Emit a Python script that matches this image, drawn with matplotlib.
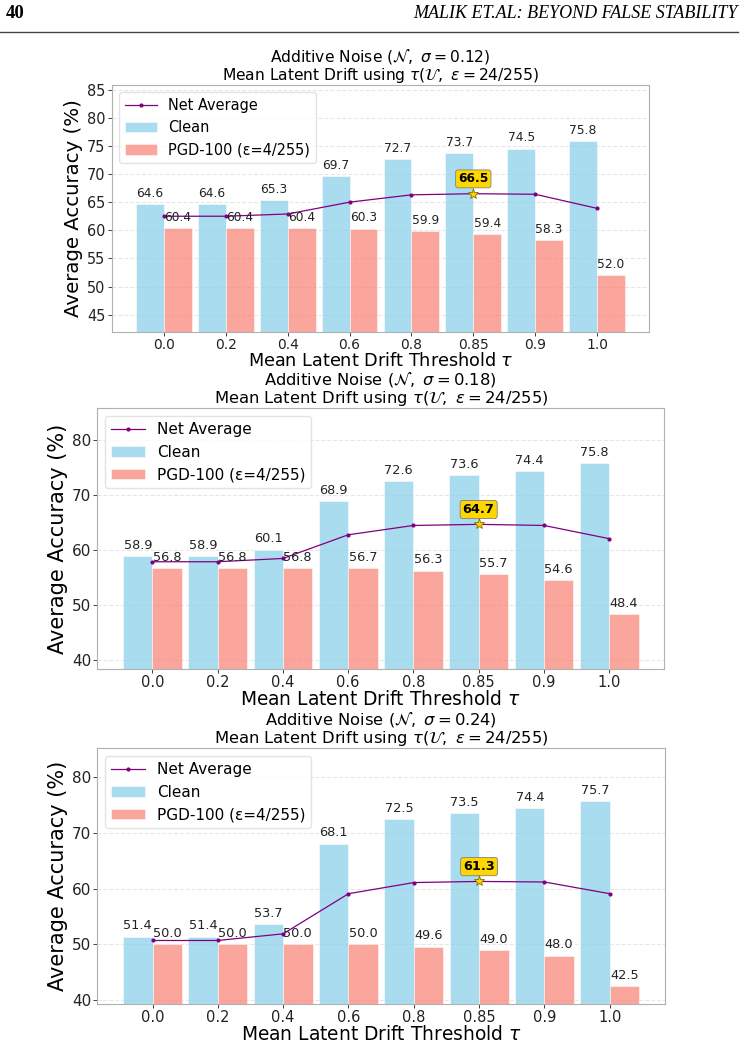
import numpy as np
import matplotlib.pyplot as plt
from matplotlib.ticker import MultipleLocator

# data
thresholds = ["0.0", "0.2", "0.4", "0.6", "0.8", "0.85", "0.9", "1.0"]

clean_012 = [64.6, 64.6, 65.3, 69.7, 72.7, 73.7, 74.5, 75.8]
pgd_012 = [60.4, 60.4, 60.4, 60.3, 59.9, 59.4, 58.3, 52.0]
net_012 = [62.5, 62.5, 62.9, 65.0, 66.3, 66.5, 66.4, 63.9]

clean_018 = [58.9, 58.9, 60.1, 68.9, 72.6, 73.6, 74.4, 75.8]
pgd_018 = [56.8, 56.8, 56.8, 56.7, 56.3, 55.7, 54.6, 48.4]
net_018 = [57.9, 57.9, 58.5, 62.8, 64.5, 64.7, 64.5, 62.1]

clean_024 = [51.4, 51.4, 53.7, 68.1, 72.5, 73.5, 74.4, 75.7]
pgd_024 = [50.0, 50.0, 50.0, 50.0, 49.6, 49.0, 48.0, 42.5]
net_024 = [50.7, 50.7, 51.9, 59.1, 61.1, 61.3, 61.2, 59.1]

sigmas = ["0.12", "0.18", "0.24"]

W, H = 744, 1048


def px_axes(fig, left, top, right, bottom):
    return fig.add_axes([left / W, 1 - bottom / H, (right - left) / W, (bottom - top) / H])


def plot_panel(ax, sigma, clean, pgd, net, ylim, ystep, fs=1.0):
    x = np.arange(len(thresholds))
    w = 0.45
    ax.plot(x, net, color='purple', marker='o', markersize=2, linewidth=0.9,
            label='Net Average')
    b1 = ax.bar(x - w / 2, clean, w, color='skyblue', alpha=0.7, label='Clean',
                edgecolor='white', linewidth=0.5)
    b2 = ax.bar(x + w / 2, pgd, w, color='salmon', alpha=0.7, label='PGD-100 (ε=4/255)',
                edgecolor='white', linewidth=0.5)

    for rect, v in zip(b1, clean):
        ax.annotate(f"{v:.1f}", (rect.get_x() + rect.get_width() / 2, v),
                    xytext=(0, 3), textcoords='offset points', ha='center', va='bottom',
                    fontsize=9.3 * fs, color='#222222')
    for rect, v in zip(b2, pgd):
        ax.annotate(f"{v:.1f}", (rect.get_x() + rect.get_width() / 2, v),
                    xytext=(0, 3), textcoords='offset points', ha='center', va='bottom',
                    fontsize=9.3 * fs, color='#222222')

    best = int(np.argmax(net))
    ax.plot(x[best], net[best], marker='*', markersize=8, color='gold',
            markeredgecolor='#8a7000', markeredgewidth=0.6, zorder=5)
    ax.annotate(f"{net[best]:.1f}", (x[best], net[best]), xytext=(0, 6),
                textcoords='offset points', ha='center', va='bottom',
                fontsize=9.3 * fs, fontweight='bold',
                bbox=dict(boxstyle='round,pad=0.2', fc='gold', ec='gray', lw=0.6))

    ax.set_xticks(x)
    ax.set_xticklabels(thresholds, fontsize=10.5 * fs)
    ax.yaxis.set_major_locator(MultipleLocator(ystep))
    ax.tick_params(axis='y', labelsize=11 * fs)
    ax.tick_params(colors='#222222', length=3, width=0.6, pad=1.5)
    ax.set_ylim(*ylim)
    ax.grid(axis='y', linestyle='--', alpha=0.3)
    ax.set_axisbelow(True)
    for s in ax.spines.values():
        s.set_color('#b0b0b0')

    ax.set_xlabel(r"Mean Latent Drift Threshold $\tau$", fontsize=13.4 * fs, labelpad=0)
    ax.set_ylabel("Average Accuracy (%)", fontsize=15 * fs, labelpad=3)
    ax.set_title(f"Additive Noise ($\\mathcal{{N}},\\ \\sigma={sigma}$)\n"
                 r"Mean Latent Drift using $\tau(\mathcal{U},\ \epsilon=24/255)$",
                 fontsize=11.8 * fs, pad=3, linespacing=1.0)

    ax.legend(loc='upper left', fontsize=11 * fs, framealpha=0.8,
              edgecolor='#dddddd', handlelength=2.2)


fig = plt.figure(figsize=(W / 100, H / 100), dpi=100)

# page header
fig.text(6 / W, 1 - 13 / H, "40", fontsize=13.5, fontweight='bold', family='Liberation Serif',
         va='center', ha='left')
fig.text(738 / W, 1 - 13 / H, "MALIK ET.AL: BEYOND FALSE STABILITY", fontsize=13,
         style='italic', family='Liberation Serif', va='center', ha='right')
fig.add_artist(plt.Line2D([0, 738 / W], [1 - 32 / H, 1 - 32 / H], color='#444444', lw=1))

ax1 = px_axes(fig, 111.7, 85, 649.3, 331.7)
plot_panel(ax1, sigmas[0], clean_012, pgd_012, net_012, (42.0, 85.8), 5, fs=0.95)

ax2 = px_axes(fig, 97.3, 408.3, 664.3, 669)
plot_panel(ax2, sigmas[1], clean_018, pgd_018, net_018, (38.4, 85.8), 10)

ax3 = px_axes(fig, 97.3, 748.3, 665, 1004)
plot_panel(ax3, sigmas[2], clean_024, pgd_024, net_024, (39.3, 85.2), 10)

fig.savefig("out.png", dpi=100)
